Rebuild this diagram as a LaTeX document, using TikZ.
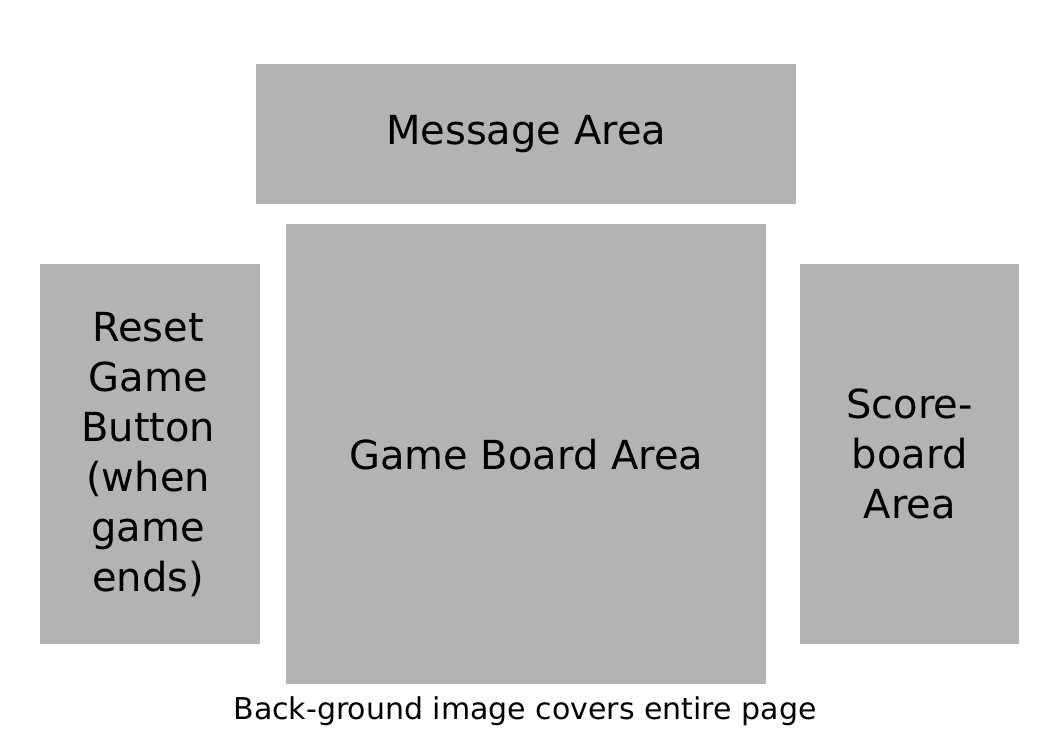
\documentclass[tikz,border=0pt]{standalone}
\usepackage{fontspec}
\setmainfont{DejaVu Sans}
\definecolor{boxgray}{RGB}{179,179,179}
\begin{document}
\begin{tikzpicture}[x=1pt,y=-1pt,
  area/.style={fill=boxgray, draw=none, inner sep=0pt, anchor=north west,
    font=\fontsize{40}{50}\selectfont, align=center, text=black},
  areatext/.style={font=\fontsize{40}{50}\selectfont, align=center, text=black, inner sep=0pt},
  caption/.style={font=\fontsize{30}{36}\selectfont, text=black, inner sep=0pt}]
\useasboundingbox (0,0) rectangle (1052,744);
\node[area, minimum width=540pt, minimum height=140pt] (msg) at (256,64) {Message Area};
\node[area, minimum width=480pt, minimum height=460pt] (board) at (286,224) {Game Board Area};
\node[area, minimum width=220pt, minimum height=380pt] (reset) at (40,264) {};
\node[areatext, xshift=-2pt] (resettext) at (reset.center) {Reset\\Game\\Button\\(when\\game\\ends)};
\node[area, minimum width=219pt, minimum height=380pt] (score) at (800,264) {Score-\\board\\Area};
\node[caption] (cap) at (525,711.5) {Back-ground image covers entire page};
\end{tikzpicture}
\end{document}
